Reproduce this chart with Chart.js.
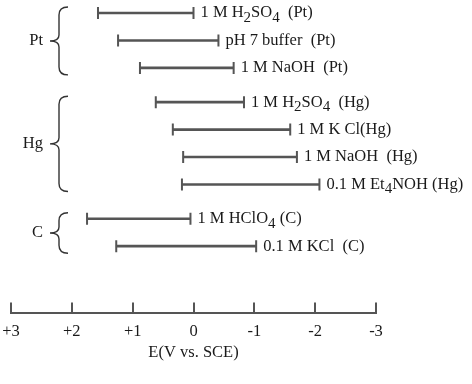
<!DOCTYPE html>
<html><head><meta charset="utf-8">
<script src="https://cdn.jsdelivr.net/npm/chart.js@4"></script>
<style>html,body{margin:0;padding:0;background:#fff}canvas{display:block}</style>
</head><body>
<canvas id="c" width="472" height="384"></canvas>
<script>
// Data (potential windows, V vs. SCE)
const rowLabels = ["1 M H_2SO_4  (Pt)", "pH 7 buffer  (Pt)", "1 M NaOH  (Pt)",
  "1 M H_2SO_4  (Hg)", "1 M K Cl(Hg)", "1 M NaOH  (Hg)", "0.1 M Et_4NOH (Hg)",
  "1 M HClO_4 (C)", "0.1 M KCl  (C)"];
const anodicLimit = [1.57, 1.24, 0.88, 0.62, 0.34, 0.17, 0.19, 1.75, 1.27];
const cathodicLimit = [0.0, -0.41, -0.66, -0.83, -1.59, -1.70, -2.07, 0.05, -1.03];
const groupNames = ["Pt", "Hg", "C"];
const groupSizes = [3, 4, 2];
const xTicks = [3, 2, 1, 0, -1, -2, -3];
const xTitle = "E(V vs. SCE)";

const FONT = "'Liberation Serif', 'Times New Roman', serif";
const INK = '#1a1a1a';
const LINE = '#555555';
const GROUP_GAP = 0.25;

// row positions: index plus a small gap between groups
const groupOf = [];
groupSizes.forEach((n, g) => { for (let k = 0; k < n; k++) groupOf.push(g); });
const points = anodicLimit.map((a, i) => ({ x: [a, cathodicLimit[i]], y: i + groupOf[i] * GROUP_GAP }));

function drawRich(ctx, str, x, y) {
  let cx = x;
  for (let i = 0; i < str.length; i++) {
    let ch = str[i];
    if (ch === '_' && i + 1 < str.length) {
      ch = str[++i];
      ctx.font = '15px ' + FONT;
      ctx.fillText(ch, cx, y + 5);
      cx += ctx.measureText(ch).width;
    } else {
      ctx.font = '16.5px ' + FONT;
      ctx.fillText(ch, cx, y);
      cx += ctx.measureText(ch).width;
    }
  }
}

const decor = {
  id: 'decor',
  afterDatasetsDraw(chart) {
    const ctx = chart.ctx;
    const meta = chart.getDatasetMeta(0);
    const xs = chart.scales.x;
    ctx.save();
    meta.data.forEach((el, i) => {
      const left = Math.min(el.x, el.base), right = Math.max(el.x, el.base);
      ctx.strokeStyle = LINE; ctx.lineWidth = 2;
      ctx.beginPath();
      ctx.moveTo(left, el.y - 6); ctx.lineTo(left, el.y + 6);
      ctx.moveTo(right, el.y - 6); ctx.lineTo(right, el.y + 6);
      ctx.stroke();
      ctx.fillStyle = INK; ctx.textBaseline = 'middle'; ctx.textAlign = 'left';
      drawRich(ctx, rowLabels[i], right + 7, el.y);
    });
    const bottom = chart.chartArea.bottom;
    ctx.strokeStyle = LINE; ctx.lineWidth = 2;
    xs.ticks.forEach(t => {
      const px = Math.round(xs.getPixelForValue(t.value));
      ctx.beginPath(); ctx.moveTo(px, bottom); ctx.lineTo(px, bottom - 11); ctx.stroke();
    });
    let start = 0;
    groupNames.forEach((name, g) => {
      const first = meta.data[start], last = meta.data[start + groupSizes[g] - 1];
      const top = first.y - 6, bot = last.y + 7, mid = (top + bot) / 2;
      const xe = 68, xm = 59, xt = 50;
      ctx.strokeStyle = '#333'; ctx.lineWidth = 1.4;
      ctx.beginPath();
      ctx.moveTo(xe, top);
      ctx.quadraticCurveTo(xm, top, xm, top + 8);
      ctx.lineTo(xm, mid - 6);
      ctx.quadraticCurveTo(xm, mid, xt, mid);
      ctx.quadraticCurveTo(xm, mid, xm, mid + 6);
      ctx.lineTo(xm, bot - 8);
      ctx.quadraticCurveTo(xm, bot, xe, bot);
      ctx.stroke();
      ctx.fillStyle = INK; ctx.font = '16.5px ' + FONT;
      ctx.textAlign = 'right'; ctx.textBaseline = 'middle';
      ctx.fillText(name, 43, mid);
      start += groupSizes[g];
    });
    ctx.restore();
  }
};

new Chart(document.getElementById('c'), {
  type: 'bar',
  data: {
    datasets: [{ data: points, backgroundColor: LINE, borderWidth: 0, barThickness: 2, borderSkipped: false }]
  },
  options: {
    indexAxis: 'y',
    responsive: false,
    animation: false,
    devicePixelRatio: 1,
    layout: { padding: { left: 11, right: 96, top: 0, bottom: 21 } },
    plugins: { legend: { display: false }, tooltip: { enabled: false } },
    scales: {
      y: { type: 'linear', display: false, reverse: true, offset: false, min: -0.475, max: 10.95 },
      x: {
        type: 'linear', min: -3, max: 3, reverse: true,
        afterBuildTicks: (s) => { s.ticks = xTicks.map(v => ({ value: v })); },
        afterFit: (s) => { s.paddingLeft = 0; s.paddingRight = 0; },
        ticks: {
          color: INK, font: { family: FONT, size: 16.5 }, padding: 8, maxRotation: 0,
          callback: (v) => v > 0 ? '+' + v : String(v)
        },
        grid: { display: false, drawTicks: false },
        border: { display: true, color: LINE, width: 2 },
        title: { display: true, text: xTitle, color: INK, font: { family: FONT, size: 16.5 }, padding: { top: -6, bottom: 0 } }
      }
    }
  },
  plugins: [decor]
});
</script>
</body></html>
